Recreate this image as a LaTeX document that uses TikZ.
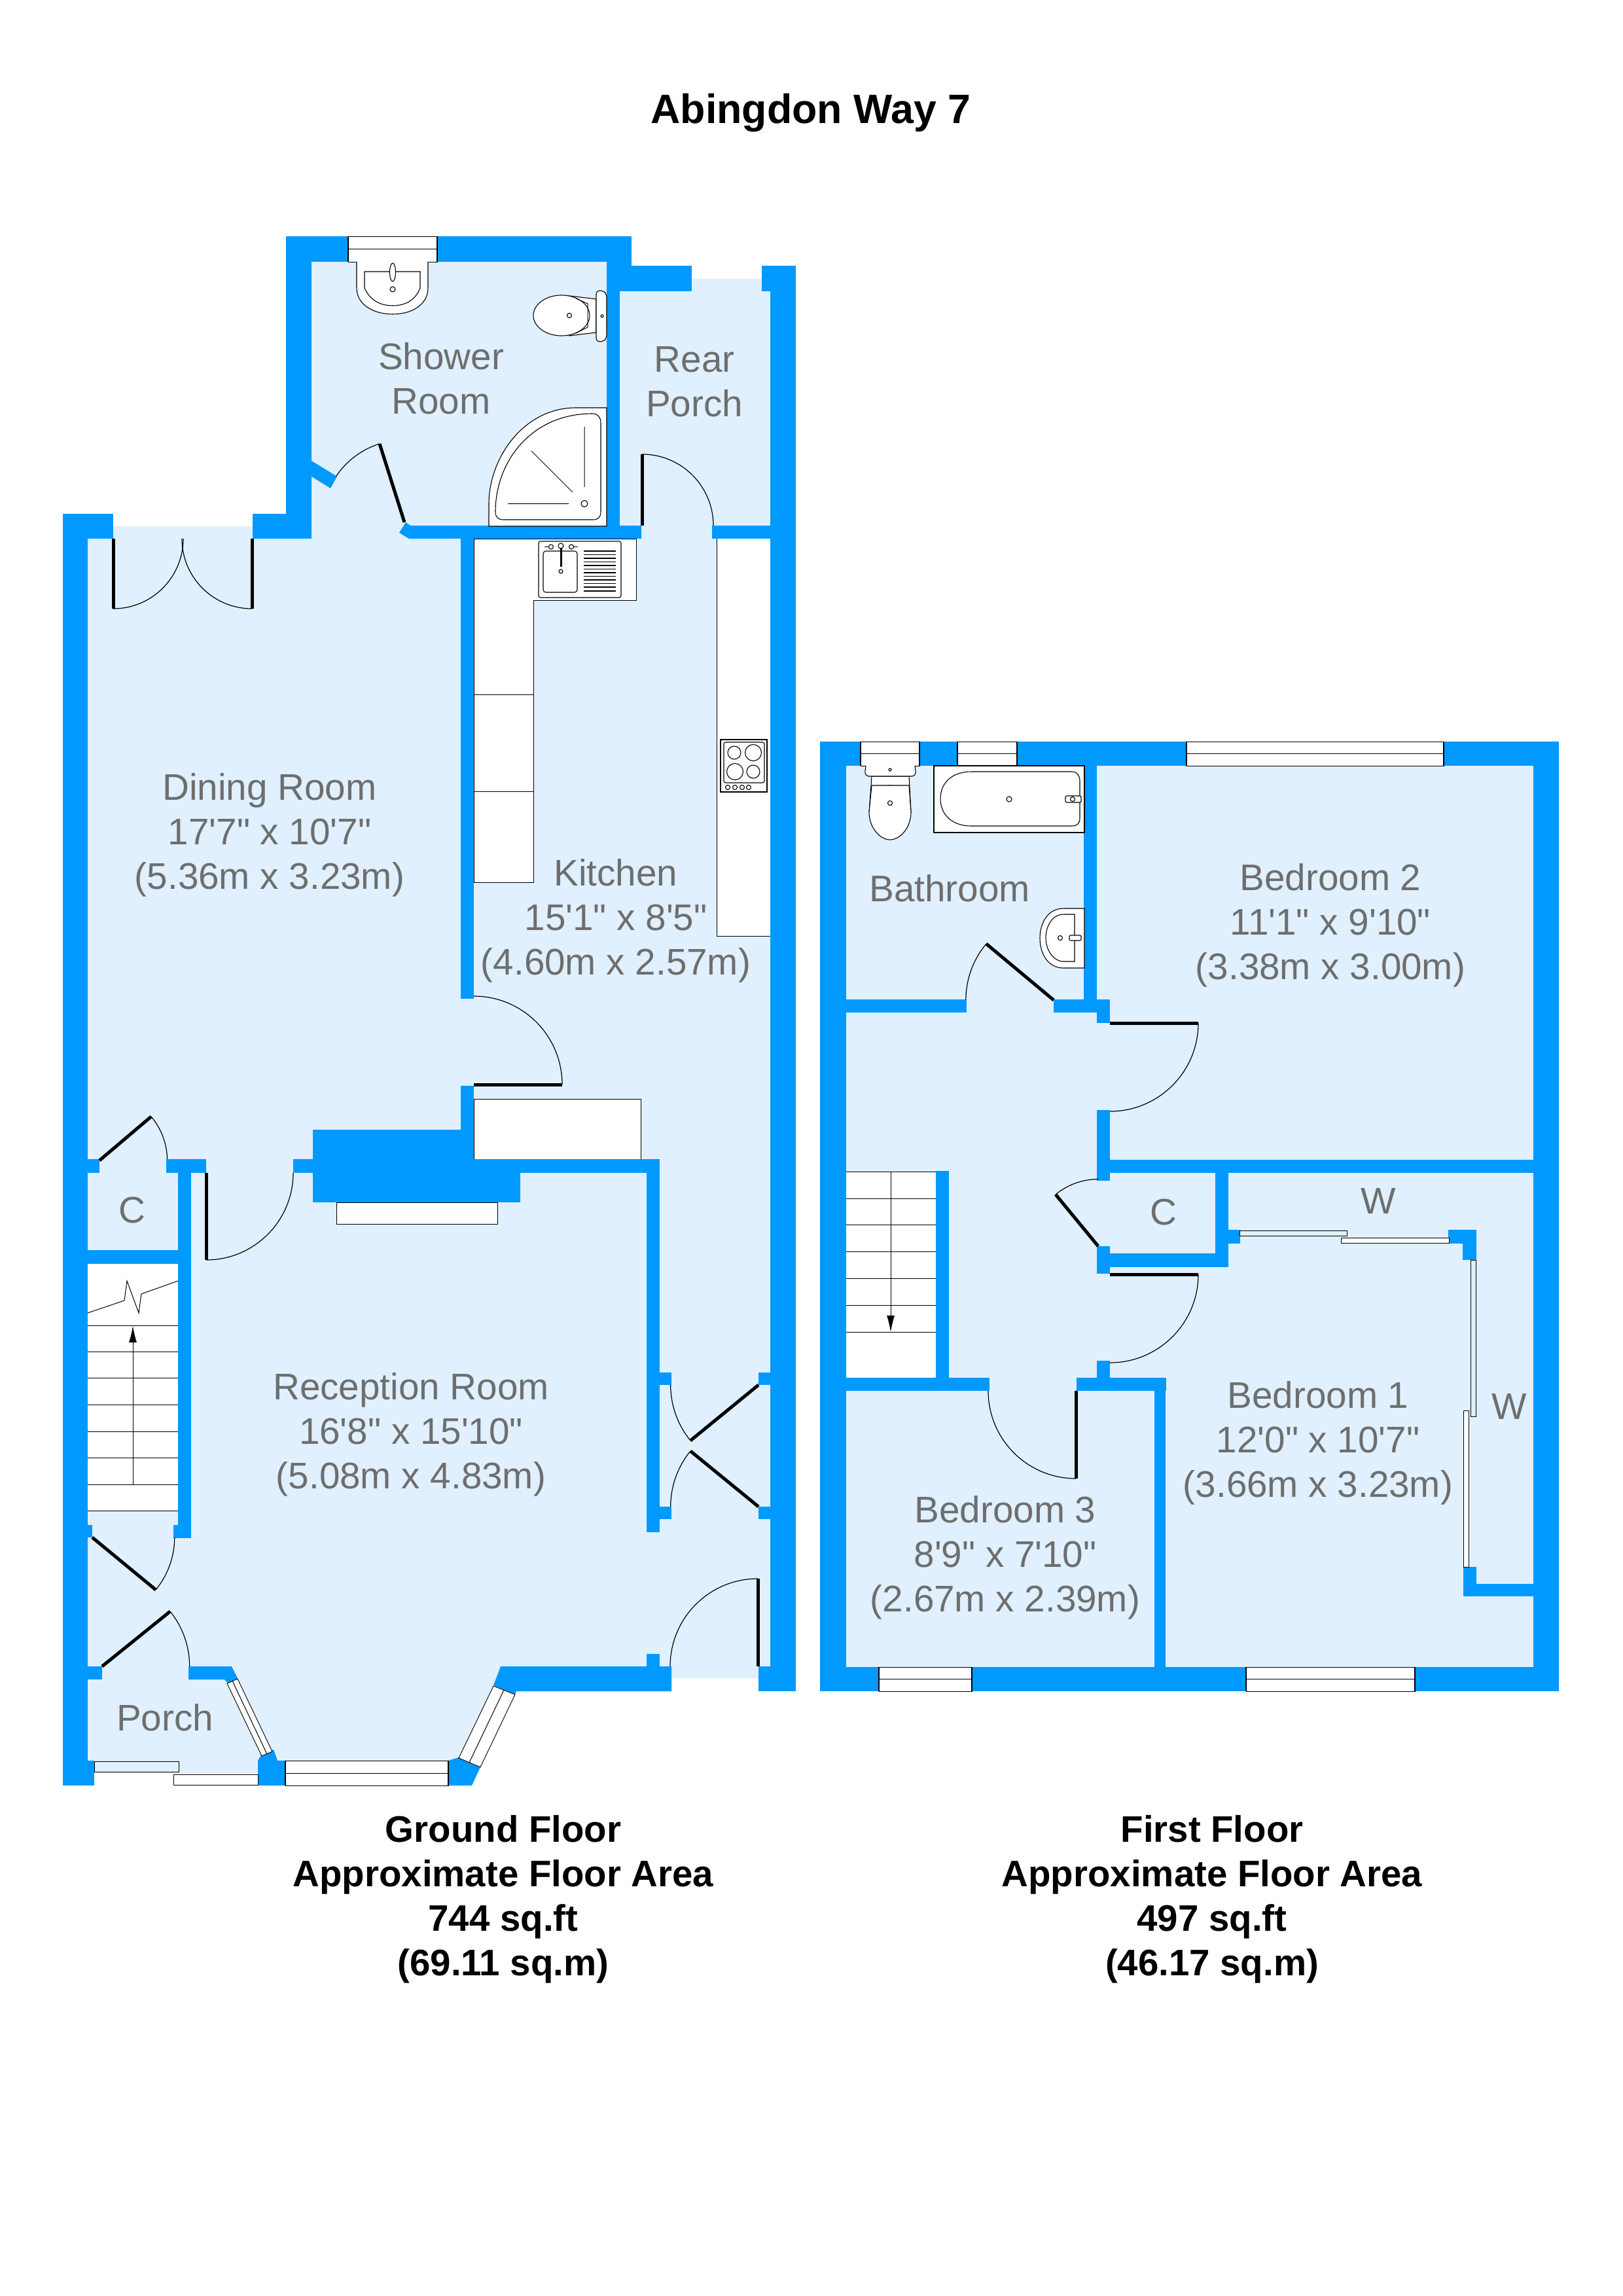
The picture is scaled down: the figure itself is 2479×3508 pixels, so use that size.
\documentclass[tikz,border=0pt]{standalone}
\usepackage{fontspec}
\setmainfont{Liberation Sans}[Ligatures=TeXOff]
\usetikzlibrary{arrows.meta}
\definecolor{wallc}{HTML}{0099FF}
\definecolor{floorc}{HTML}{E0F0FF}
\definecolor{labelc}{HTML}{6E6E6E}
\tikzset{
  floorfill/.style={fill=floorc,draw=none},
  wallfill/.style={fill=wallc,draw=none},
  unitbox/.style={fill=white,draw=black,line width=1pt},
  fixture/.style={fill=white,draw=black,line width=1.1pt},
  thinline/.style={draw=black,line width=1pt},
  leaf/.style={draw=black,line width=5pt},
  swing/.style={draw=black,line width=1.2pt},
  windowbox/.style={fill=white,draw=black,line width=0.9pt},
  slide/.style={fill=floorc,draw=black,line width=1pt},
  roomlabel/.style={text=labelc,align=center,inner sep=0pt,font=\fontsize{56.6}{68}\selectfont},
  caption/.style={text=black,align=center,inner sep=0pt,font=\fontsize{56.4}{68}\selectfont\bfseries},
  titlelabel/.style={text=black,inner sep=0pt,font=\fontsize{62.7}{70}\selectfont\bfseries},
  stairarrow/.style={draw=black,line width=1pt,-{Latex[length=25pt,width=12pt]}}
}
\newcommand{\wl}[4]{\fill[wallfill] (#1,#2) rectangle (#3,#4);}
\newcommand{\hwin}[4]{\draw[windowbox] (#1,#2) rectangle (#3,#4); \draw[thinline] (#1,{(#2+#4)/2}) -- (#3,{(#2+#4)/2}); \draw[draw=black,line width=1.6pt] (#1,#2) -- (#1,#4) (#3,#2) -- (#3,#4);}
% door: hinge, leaf tip, end of the swing
\newcommand{\door}[6]{%
  \pgfmathsetmacro\angA{atan2(#4-#2,#3-#1)}%
  \pgfmathsetmacro\angB{atan2(#6-#2,#5-#1)}%
  \pgfmathsetmacro\dlt{mod(\angB-\angA+540,360)-180}%
  \pgfmathsetmacro\rad{veclen(#3-#1,#4-#2)}%
  \draw[swing] (#3,#4) arc[start angle=\angA,delta angle=\dlt,radius=\rad];
  \draw[leaf] (#1,#2) -- (#3,#4);}
\begin{document}
\begin{tikzpicture}[x=1pt,y=-1pt]
\useasboundingbox (0,0) rectangle (2479,3508);
\fill[white] (0,0) rectangle (2479,3508);
% ---------- floors
\fill[floorfill] (96,804) -- (437,804) -- (437,365) -- (960,365) -- (960,426) -- (1177,426) -- (1177,2564) -- (1026,2564) -- (1026,2584) -- (789,2584) -- (721,2720) -- (394,2720) -- (394,2709) -- (96,2709) -- cycle;
\fill[floorfill] (1253,1133) rectangle (2382,2584);
% ---------- kitchen units
\draw[unitbox] (724,823) -- (972,823) -- (972,917) -- (815,917) -- (815,1348) -- (724,1348) -- cycle;
\draw[thinline] (724,1061) -- (815,1061) (724,1209) -- (815,1209);
\draw[unitbox] (1095,823) -- (1095,1430) -- (1177,1430) -- (1177,823);
\draw[unitbox] (724,1679) rectangle (979,1771);
\draw[unitbox] (514,1837) rectangle (760,1870);
% sink
\draw[fixture,rounded corners=3pt] (823,827) rectangle (949,913);
\draw[fixture,rounded corners=4pt] (830,842) rectangle (882,905);
\foreach \yy in {842,847.5,853,858.5,864,869.5,875,880.5,886,891.5,897,903} {\draw[draw=black,line width=1.7pt] (892,\yy) -- (941,\yy);}
\draw[draw=black,line width=3pt] (857,836) -- (857,866);
\draw[fixture] (857,873) circle (3);
\draw[fixture] (857,834) circle (4);
\draw[fixture] (842,835.5) circle (3.5);
\draw[fixture] (873,835.5) circle (3.5);
\draw[thinline] (832,835.5) -- (838,835.5) (877,835.5) -- (883,835.5);
% hob
\draw[fixture] (1101,1130) rectangle (1172,1210);
\draw[fixture,rounded corners=3pt] (1106,1134) rectangle (1168,1196);
\draw[fixture] (1122,1150) circle (10);
\draw[fixture] (1151,1150) circle (12.5);
\draw[fixture] (1123,1179) circle (12.5);
\draw[fixture] (1151,1179) circle (10);
\foreach \xx in {1112,1123,1134,1144} {\draw[fixture] (\xx,1203) circle (3.5);}
% ---------- ground floor stairs
\fill[white] (134,1931) rectangle (272,2308);
\draw[thinline] \foreach \yy in {2025,2065,2105,2146,2187,2227,2268,2308} {(134,\yy) -- (272,\yy)};
\draw[thinline] (134,2006) -- (190,1987) -- (194,1957) -- (212,2006) -- (216,1977) -- (272,1957);
\coordinate (stairGa) at (203,2268);
\coordinate (stairGb) at (203,2026);
\draw[stairarrow] (stairGa) -- (stairGb);
% ---------- ground floor walls
\wl{96}{785}{134}{2728}
\wl{96}{785}{173}{823}
\wl{386}{785}{476}{823}
\wl{437}{361}{476}{785}
\wl{437}{361}{965}{400}
\wl{927}{400}{947}{823}
\wl{927}{400}{965}{445}
\wl{947}{406}{1057}{445}
\wl{1164}{406}{1177}{445}
\wl{1177}{406}{1216}{2584}
\wl{625}{803}{980}{823}
\wl{1088}{803}{1216}{823}
\wl{704}{823}{724}{1526}
\wl{704}{1659}{724}{1771}
\wl{478}{1726}{724}{1771}
\wl{448}{1771}{1008}{1792}
\wl{478}{1792}{795}{1837}
\wl{988}{1792}{1008}{2341}
\wl{988}{2097}{1026}{2116}
\wl{988}{2302}{1026}{2321}
\wl{1159}{2097}{1216}{2116}
\wl{1159}{2302}{1216}{2321}
\wl{1159}{2546}{1216}{2584}
\wl{988}{2527}{1008}{2546}
\wl{96}{1771}{152}{1792}
\wl{254}{1771}{315}{1792}
\wl{272}{1792}{292}{2350}
\wl{96}{1910}{292}{1931}
\wl{96}{2330}{141}{2349}
\wl{265}{2330}{292}{2350}
\wl{96}{2546}{156}{2566}
\wl{96}{2690}{144}{2728}
\fill[wallfill] (476,704) -- (515,728) -- (505,746) -- (476,728) -- cycle;
\fill[wallfill] (620,798) -- (610,814) -- (625,823) -- (640,823) -- (640,803) -- (627,803) -- cycle;
\fill[wallfill] (765,2546) -- (1026,2546) -- (1026,2584) -- (789,2584) -- (787,2589) -- (754,2575) -- cycle;
\fill[wallfill] (288,2546) -- (354,2546) -- (364,2566) -- (350,2573) -- (343,2566) -- (288,2566) -- cycle;
\fill[wallfill] (394,2690) -- (400,2680) -- (418,2673) -- (424,2690) -- (436,2690) -- (436,2728) -- (394,2728) -- cycle;
\fill[wallfill] (685,2690) -- (701,2685) -- (734,2700) -- (721,2728) -- (685,2728) -- cycle;
% ---------- ground floor windows
\hwin{532}{361}{668}{400}
\hwin{436}{2690}{685}{2728}
\draw[windowbox] (754,2576) -- (787,2589) -- (734,2700) -- (701,2686) -- cycle;
\draw[thinline] (770,2582) -- (717,2693);
\draw[windowbox] (347,2572) -- (363,2565) -- (416,2676) -- (400,2683) -- cycle;
\draw[thinline] (355,2568) -- (408,2680);
\draw[slide] (144,2691) rectangle (273,2707);
\draw[windowbox,line width=1pt] (265,2711) rectangle (394,2727);
% ---------- ground floor doors
\door{618}{798}{580}{678}{514}{728}
\door{981}{803}{981}{694}{1088}{803}
\door{173}{823}{173}{930}{280}{823}
\door{385}{823}{385}{930}{280}{823}
\door{724}{1657}{859}{1657}{724}{1526}
\door{152}{1773}{231}{1706}{255}{1771}
\door{315}{1792}{315}{1925}{449}{1792}
\door{1159}{2116}{1055}{2201}{1026}{2116}
\door{1159}{2302}{1055}{2217}{1026}{2302}
\door{1158}{2546}{1158}{2412}{1026}{2546}
\door{141}{2349}{238}{2429}{266}{2349}
\door{156}{2546}{260}{2462}{289}{2546}
% ---------- shower room fittings
\draw[fixture] (545,400) -- (545,440) .. controls (545,465) and (570,480) .. (600,480) .. controls (630,480) and (654,465) .. (654,440) -- (654,400);
\draw[fixture] (557,415) -- (557,440) .. controls (565,458) and (580,467) .. (600,467) .. controls (620,467) and (635,458) .. (642,440) -- (642,415) -- cycle;
\draw[fixture] (600,416) ellipse (4.5 and 14);
\draw[fixture] (600,442) circle (4);
\draw[fixture] (870,452) -- (911,457) -- (911,508) -- (870,513) -- cycle;
\draw[fixture] (858,482) ellipse (43 and 31);
\draw[thinline] (880,456) -- (898,464) -- (898,500) -- (880,509);
\draw[fixture,rounded corners=5pt] (911,444) -- (922,444) -- (927,450) -- (927,516) -- (922,522) -- (911,522) -- cycle;
\draw[fixture] (870,482) circle (3.5);
\draw[fixture] (920,483) circle (2);
\draw[fixture] (747,804) -- (747,770) .. controls (747,700) and (800,623) .. (880,623) -- (927,623) -- (927,804) -- cycle;
\draw[fixture] (757,782) .. controls (757,705) and (812,632) .. (905,632) .. controls (914,632) and (918,638) .. (918,646) -- (918,782) .. controls (918,790) and (914,794) .. (906,794) -- (769,794) .. controls (761,794) and (757,790) .. (757,782) -- cycle;
\draw[thinline] (893,652) -- (893,744) (812,689) -- (875,752) (776,769.5) -- (869,769.5);
\draw[fixture] (893,769.5) circle (5);
% ---------- first floor stairs
\fill[white] (1293,1790) rectangle (1430,2105);
\draw[thinline] \foreach \yy in {1790.5,1831,1871.5,1912,1953,1994,2035} {(1293,\yy) -- (1430,\yy)};
\coordinate (stairFa) at (1361,1790);
\coordinate (stairFb) at (1361,2035);
\draw[stairarrow] (stairFa) -- (stairFb);
% ---------- first floor walls
\wl{1253}{1133}{2382}{1170}
\wl{1253}{2547}{2382}{2584}
\wl{1253}{1133}{1293}{2584}
\wl{2343}{1133}{2382}{2584}
\wl{1656}{1170}{1676}{1547}
\wl{1253}{1527}{1477}{1547}
\wl{1610}{1527}{1696}{1547}
\wl{1676}{1547}{1696}{1563}
\wl{1676}{1696}{1696}{1804}
\wl{1676}{1772}{2382}{1792}
\wl{1857}{1792}{1877}{1936}
\wl{1676}{1915}{1877}{1936}
\wl{1676}{1904}{1696}{1946}
\wl{1877}{1879}{1895}{1900}
\wl{2213}{1879}{2256}{1900}
\wl{2235}{1879}{2256}{1925}
\wl{2236}{2394}{2256}{2439}
\wl{2236}{2420}{2382}{2439}
\wl{1676}{2079}{1696}{2105}
\wl{1253}{2105}{1512}{2125}
\wl{1645}{2105}{1782}{2125}
\wl{1764}{2125}{1781}{2547}
\wl{1430}{1789}{1450}{2105}
% ---------- first floor windows
\hwin{1315}{1133}{1405}{1170}
\hwin{1463}{1133}{1554}{1170}
\hwin{1813}{1133}{2206}{1170}
\hwin{1343}{2547}{1485}{2584}
\hwin{1904}{2547}{2162}{2584}
\draw[slide] (1894,1880) rectangle (2058,1888);
\draw[windowbox,line width=1pt] (2049,1891) rectangle (2214,1899);
\draw[slide] (2247,1925) rectangle (2255,2164);
\draw[windowbox,line width=1pt] (2236,2155) rectangle (2244,2394);
% ---------- first floor doors
\door{1610}{1528}{1507}{1442}{1477}{1528}
\door{1696}{1563}{1831}{1563}{1696}{1696}
\door{1678}{1904}{1613}{1825}{1678}{1803}
\door{1696}{1947}{1831}{1947}{1696}{2080}
\door{1644}{2125}{1644}{2259}{1512}{2125}
% ---------- bathroom fittings
\draw[fixture] (1427,1170) rectangle (1657,1272);
\draw[fixture] (1484,1179) -- (1638,1179) .. controls (1646,1179) and (1650,1186) .. (1650,1192) -- (1650,1250) .. controls (1650,1258) and (1646,1262) .. (1638,1262) -- (1484,1262) .. controls (1455,1262) and (1437,1245) .. (1437,1220) .. controls (1437,1196) and (1455,1179) .. (1484,1179) -- cycle;
\draw[fixture] (1542,1221) circle (4);
\draw[fixture,rounded corners=2pt] (1628,1216) rectangle (1652,1226);
\draw[fixture] (1639,1221) circle (3.5);
\draw[fixture] (1332,1186) -- (1328,1241) -- (1392,1241) -- (1389,1186) -- cycle;
\draw[fixture] (1360,1241) ellipse (31 and 41);
\draw[fixture] (1332,1200) -- (1389,1200) -- (1392,1241) .. controls (1392,1265) and (1375,1283) .. (1360,1283) .. controls (1345,1283) and (1328,1265) .. (1328,1241) -- cycle;
\draw[fixture,rounded corners=7pt] (1323,1170) -- (1321,1186) -- (1400,1186) -- (1398,1170);
\draw[fixture] (1360,1176) circle (2);
\draw[fixture] (1360,1227) circle (3.5);
\draw[fixture] (1657,1388) -- (1625,1388) .. controls (1600,1388) and (1589,1412) .. (1589,1433) .. controls (1589,1458) and (1602,1479) .. (1625,1479) -- (1657,1479) -- cycle;
\draw[fixture] (1642,1397) -- (1625,1397) .. controls (1608,1397) and (1598,1415) .. (1598,1433) .. controls (1598,1452) and (1610,1469) .. (1625,1469) -- (1642,1469) -- cycle;
\draw[fixture] (1620,1433) circle (3.5);
\draw[fixture,rounded corners=2pt] (1634,1429) rectangle (1652,1437);
% ---------- labels
\node[titlelabel] (title) at (1239,172) {Abingdon Way 7};
\node[roomlabel] (shower) at (674,578) {Shower\\Room};
\node[roomlabel] (rear) at (1061,583) {Rear\\Porch};
\node[roomlabel] (dining) at (412,1276) {Dining Room\\17'7" x 10'7"\\(5.36m x 3.23m)};
\node[roomlabel] (kitchen) at (941,1407) {Kitchen\\15'1" x 8'5"\\(4.60m x 2.57m)};
\node[roomlabel] (cg) at (202,1849) {C};
\node[roomlabel] (reception) at (628,2192) {Reception Room\\16'8" x 15'10"\\(5.08m x 4.83m)};
\node[roomlabel] (porch) at (252,2624) {Porch};
\node[roomlabel] (bathroom) at (1451,1357) {Bathroom};
\node[roomlabel] (bed2) at (2033,1414) {Bedroom 2\\11'1" x 9'10"\\(3.38m x 3.00m)};
\node[roomlabel] (cf) at (1778,1852) {C};
\node[roomlabel] (wa) at (2106,1835) {W};
\node[roomlabel] (wb) at (2306,2149) {W};
\node[roomlabel] (bed1) at (2014,2205) {Bedroom 1\\12'0" x 10'7"\\(3.66m x 3.23m)};
\node[roomlabel] (bed3) at (1536,2380) {Bedroom 3\\8'9" x 7'10"\\(2.67m x 2.39m)};
\node[caption] (capg) at (769,2902) {Ground Floor\\Approximate Floor Area\\744 sq.ft\\(69.11 sq.m)};
\node[caption] (capf) at (1852,2902) {First Floor\\Approximate Floor Area\\497 sq.ft\\(46.17 sq.m)};
\end{tikzpicture}
\end{document}
